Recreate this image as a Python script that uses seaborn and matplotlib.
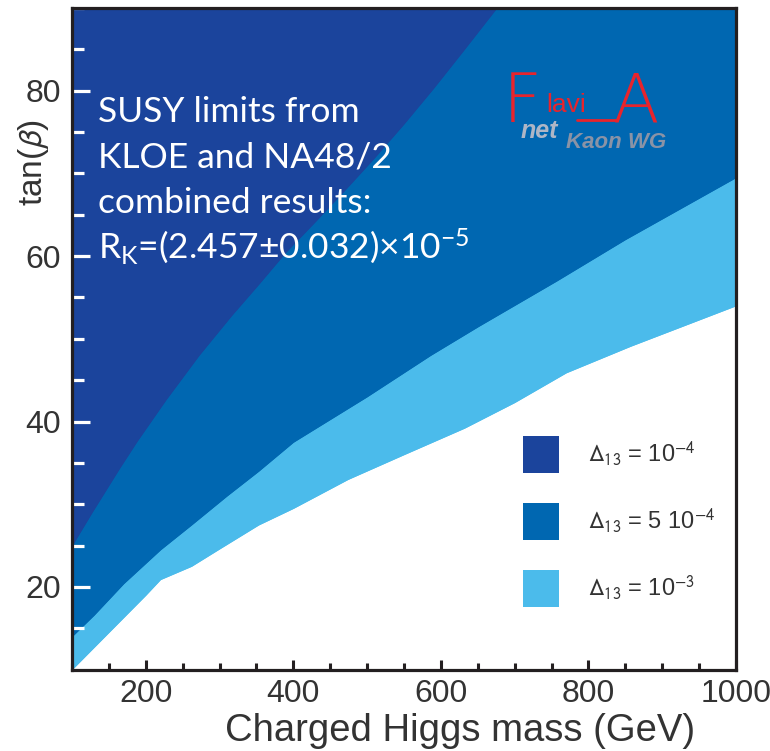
import matplotlib
matplotlib.use("Agg")
import matplotlib.pyplot as plt
from matplotlib.patches import Patch
from matplotlib.lines import Line2D
from matplotlib.ticker import MultipleLocator
import pandas as pd
import seaborn as sns

# ---- exclusion boundaries in the (M_H+, tan beta) plane ----
# Delta_13 = 1e-3 (lowest boundary)
mass_1e3 = [100, 150, 200, 220, 262, 300, 353, 400, 474, 550, 632, 700, 770, 857, 1000]
tanb_1e3 = [10, 14.5, 19.0, 20.9, 22.5, 24.6, 27.5, 29.5, 33.0, 36.0, 39.2, 42.3, 45.9, 49.1, 54.0]

# Delta_13 = 5e-4 (middle boundary)
mass_5e4 = [100, 130, 170, 220, 262, 310, 353, 400, 500, 586, 651, 757, 850, 1000]
tanb_5e4 = [14.0, 16.6, 20.4, 24.5, 27.5, 31.0, 34.0, 37.5, 43.0, 48.0, 51.5, 57.0, 62.0, 69.5]

# Delta_13 = 1e-4 (upper boundary)
mass_1e4 = [100, 127, 164, 188, 227, 272, 316, 353, 389, 430, 470, 510, 550, 590, 630, 680]
tanb_1e4 = [25.0, 29.0, 34.3, 37.6, 42.6, 48.0, 52.8, 56.6, 60.4, 64.2, 68.0, 71.9, 76.0, 80.3, 84.8, 90.5]

band_labels = [r"$\Delta_{13}$ = 10$^{-4}$", r"$\Delta_{13}$ = 5 10$^{-4}$", r"$\Delta_{13}$ = 10$^{-3}$"]
band_colors = ["#1B449C", "#0067B1", "#4BBBEB"]

x_ticks = [200, 400, 600, 800, 1000]
y_ticks = [20, 40, 60, 80]
x_range = (100, 1000)
y_range = (10, 90)

note_lines = ["SUSY limits from", "KLOE and NA48/2", "combined results:",
              r"R$_{\mathrm{K}}$=(2.457$\pm$0.032)$\times$10$^{-5}$"]

# ---- style ----
sns.set_theme(style="ticks")
plt.rcParams["font.family"] = ["Liberation Sans", "DejaVu Sans"]
plt.rcParams["mathtext.fontset"] = "custom"
plt.rcParams["mathtext.rm"] = "Lato"
plt.rcParams["mathtext.it"] = "Lato:italic"
plt.rcParams["mathtext.bf"] = "Lato:bold"

W, H = 770, 751
fig = plt.figure(figsize=(W / 100, H / 100), dpi=100)
ax_l, ax_r, ax_t, ax_b = 72, 736, 8, 669.7
ax = fig.add_axes([ax_l / W, 1 - ax_b / H, (ax_r - ax_l) / W, (ax_b - ax_t) / H])
ax.set_facecolor("white")

top = y_range[1]
# bands, drawn from the widest (lightest) upwards, kept beneath the ticks
ax.fill_between(mass_1e3, tanb_1e3, top, color=band_colors[2], lw=0, zorder=0.1)
ax.fill_between(mass_5e4, tanb_5e4, top, color=band_colors[1], lw=0, zorder=0.2)
ax.fill_between(mass_1e4, tanb_1e4, top, color=band_colors[0], lw=0, zorder=0.3)

# crisp edges along each boundary
edges = pd.concat([
    pd.DataFrame({"mass": mass_1e3, "tanb": tanb_1e3, "band": band_labels[2]}),
    pd.DataFrame({"mass": mass_5e4, "tanb": tanb_5e4, "band": band_labels[1]}),
    pd.DataFrame({"mass": mass_1e4, "tanb": tanb_1e4, "band": band_labels[0]}),
])
sns.lineplot(data=edges, x="mass", y="tanb", hue="band", sort=False,
             palette=dict(zip(band_labels, band_colors)), lw=0.8,
             legend=False, ax=ax, zorder=0.4)

ax.set_xlim(*x_range)
ax.set_ylim(*y_range)
ax.set_xticks(x_ticks)
ax.set_yticks(y_ticks)
ax.xaxis.set_minor_locator(MultipleLocator(50))
ax.yaxis.set_minor_locator(MultipleLocator(5))

spine_c = "#231F20"
for s in ax.spines.values():
    s.set_color(spine_c)
    s.set_linewidth(2.3)

lab_c = "#333333"
ax.tick_params(axis="y", which="major", direction="in", length=13, width=2.3,
               color="white", labelsize=23, labelcolor=lab_c, pad=8)
ax.tick_params(axis="y", which="minor", direction="in", length=8.5, width=2.3, color="white")
ax.tick_params(axis="x", which="major", direction="in", length=7.5, width=2.2,
               color=spine_c, labelsize=23, labelcolor=lab_c, pad=7)
ax.tick_params(axis="x", which="minor", direction="in", length=5, width=2.2, color=spine_c)

ax.set_xlabel("Charged Higgs mass (GeV)", fontsize=27.5, color=lab_c)
ax.xaxis.set_label_coords((460 - ax_l) / (ax_r - ax_l), -0.066)
ax.xaxis.label.set_va("top")
ax.set_ylabel(r"tan($\beta$)", fontsize=24, color=lab_c)
ax.yaxis.label.set_math_fontfamily("stixsans")
ax.yaxis.set_label_coords((51 - ax_l) / (ax_r - ax_l), (ax_b - 163) / (ax_b - ax_t))

# annotation block
for line, base_px in zip(note_lines, [122, 168, 213, 258]):
    ax.text((98 - ax_l) / (ax_r - ax_l), (ax_b - base_px) / (ax_b - ax_t), line,
            transform=ax.transAxes, fontsize=25.5, color="white", family="Lato",
            va="baseline", ha="left", zorder=12)

# legend: square swatches 36x37 px, rows 67 px apart
fs = 17
pt = 72 / 100  # points per pixel
hh = ((37 * pt) / fs - 0.245) / 0.65
handles = [Patch(facecolor=c, edgecolor="none") for c in band_colors]
leg = ax.legend(handles, band_labels, loc="upper left",
                bbox_to_anchor=(523 / W, 1 - 436 / H), bbox_transform=fig.transFigure,
                frameon=False, fontsize=fs, borderpad=0, borderaxespad=0,
                handlelength=36 * pt / fs, handleheight=hh,
                handletextpad=29 * pt / fs, labelspacing=30 * pt / fs)
for t in leg.get_texts():
    t.set_color(lab_c)
    t.set_math_fontfamily("stixsans")
leg.set_zorder(12)

# FlaviaNet Kaon WG logo
red = "#E8242C"
def fx(px):
    return px / W
def fy(py):
    return 1 - py / H
fig.text(fx(503), fy(122), "F", color=red, fontsize=49, family="DejaVu Sans",
         fontweight="light", va="baseline", ha="left", zorder=20)
fig.text(fx(546), fy(112), "lavi", color=red, fontsize=19, family="Liberation Sans",
         va="baseline", ha="left", zorder=20)
fig.text(fx(613), fy(122), "A", color=red, fontsize=49, family="DejaVu Sans",
         fontweight="light", va="baseline", ha="left", zorder=20)
fig.add_artist(Line2D([fx(577), fx(617)], [fy(120), fy(120)], color=red, lw=2))
fig.text(fx(521), fy(138), "net", color="#AEB6C6", fontsize=18, family="Liberation Sans",
         style="italic", fontweight="bold", va="baseline", ha="left", zorder=20)
fig.text(fx(566), fy(148), "Kaon WG", color="#8A93A6", fontsize=16, family="Liberation Sans",
         style="italic", fontweight="bold", va="baseline", ha="left", zorder=20)

fig.savefig("out.png", dpi=100)
